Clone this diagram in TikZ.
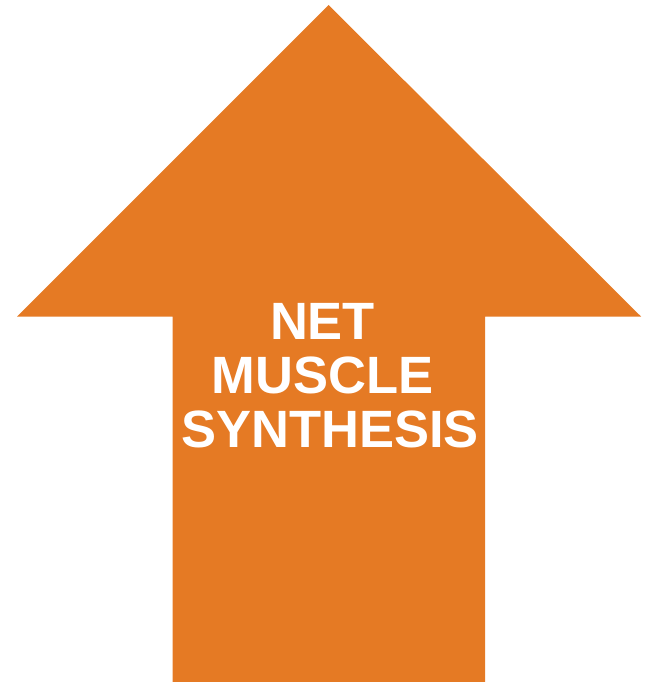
\documentclass[tikz,border=0pt]{standalone}
\usepackage{fontspec}
\setmainfont{Liberation Sans}
\definecolor{arroworange}{RGB}{229,122,36}
\begin{document}
\begin{tikzpicture}[x=1pt,y=-1pt,
  lbl/.style={anchor=base,inner sep=0pt,text=white,font=\bfseries\fontsize{52.5}{54}\selectfont}]
\useasboundingbox (0,0) rectangle (650,682);
\fill[arroworange] (328.5,5) -- (641,316.5) -- (485,316.5) -- (485,682) -- (172.5,682) -- (172.5,316.5) -- (17,316.5) -- cycle;
\node[lbl] (l1) at (322.5,339.5) {NET};
\node[lbl] (l2) at (322.5,393.5) {MUSCLE};
\node[lbl] (l3) at (330,447.5) {SYNTHESIS};
\end{tikzpicture}
\end{document}
